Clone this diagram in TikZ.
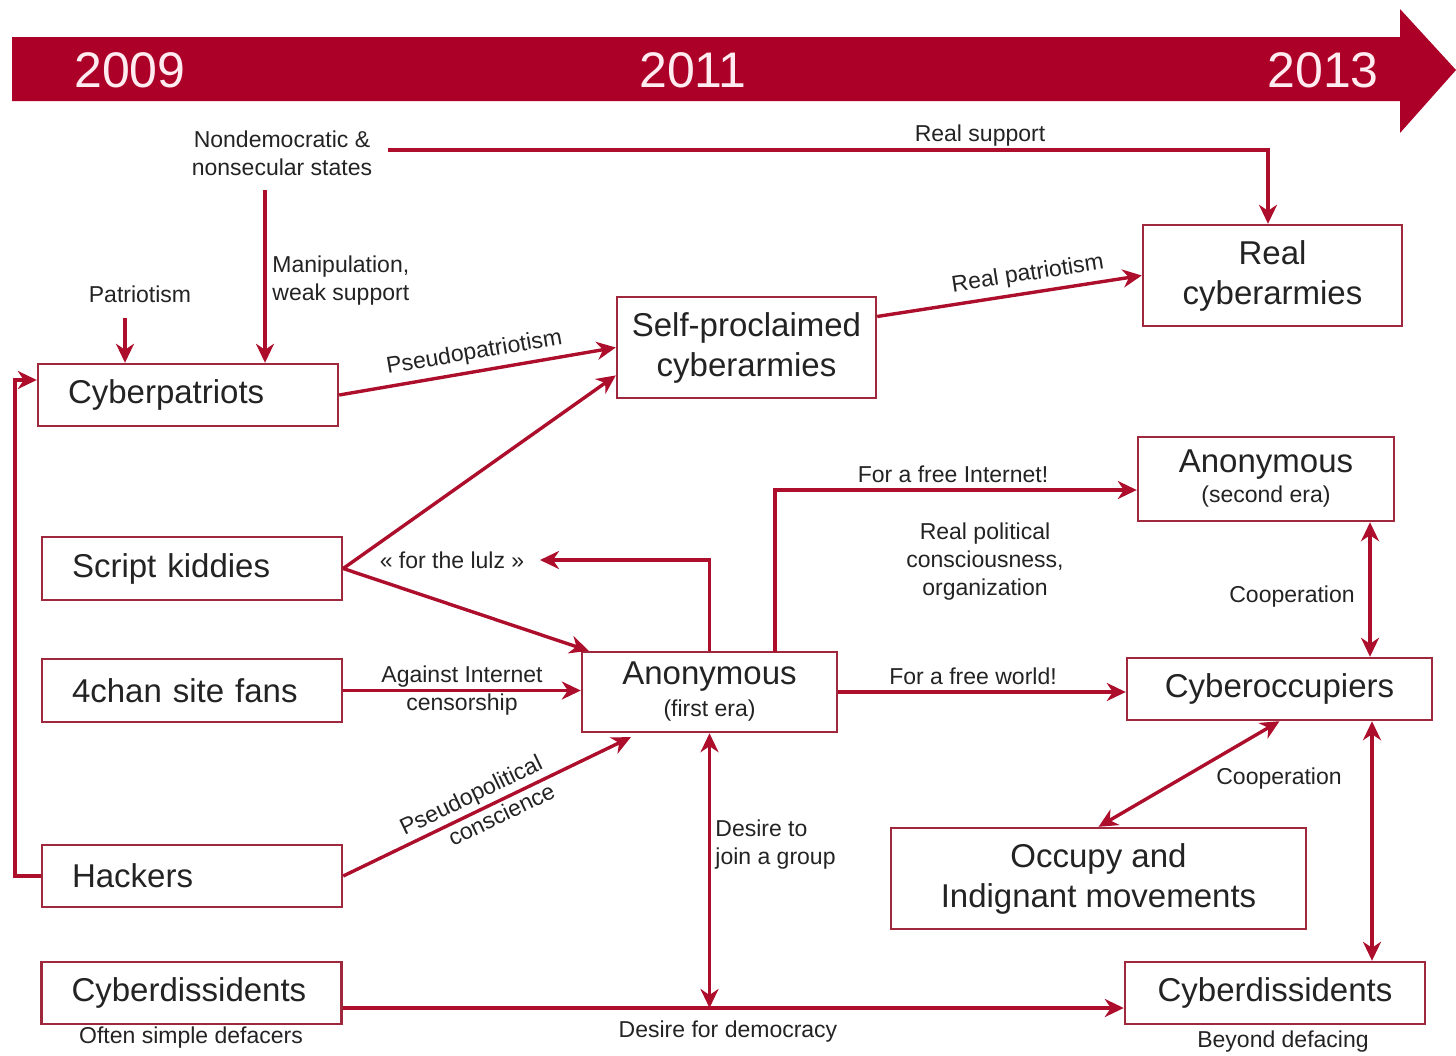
\documentclass[tikz,border=0pt]{standalone}
\usepackage{fontspec}
\setmainfont{Liberation Sans}
\usetikzlibrary{arrows.meta,calc}
\definecolor{crim}{RGB}{172,14,44}
\definecolor{bann}{RGB}{172,0,40}
\definecolor{boxc}{RGB}{160,40,60}
\definecolor{txt}{RGB}{35,35,35}
\definecolor{yr}{RGB}{255,235,240}
\tikzset{
  box/.style={draw=boxc, line width=1.2pt, fill=white, text=txt,
    font=\fontsize{16.5}{20}\selectfont, inner sep=0pt},
  lbox/.style={box, minimum height=31pt, text width=120pt, align=left, inner xsep=15pt},
  cbox/.style={box, align=center},
  lab/.style={font=\fontsize{11.5}{14}\selectfont, text=txt, inner sep=1pt, align=center},
  year/.style={font=\fontsize{25}{30}\selectfont, text=yr},
  tip/.tip={Stealth[length=9.5pt,width=9pt,inset=3pt]},
  arr/.style={draw=crim, line width=1.7pt, -tip},
  darr/.style={draw=crim, line width=1.7pt, tip-tip}
}
\begin{document}
\begin{tikzpicture}[x=0.5pt,y=-0.5pt]
\useasboundingbox (0,0) rectangle (1456,1055);
% banner
\fill[bann] (12,37) -- (1400,37) -- (1400,9) -- (1456,70) -- (1400,133) -- (1400,101) -- (12,101) -- cycle;
\node[year] (y1) at (130,70) {2009};
\node[year] (y2) at (693,70) {2011};
\node[year] (y3) at (1323,70) {2013};
% boxes
\node[lbox] (cp) at (188,395) {\raisebox{-1.5pt}{Cyberpatriots}};
\node[lbox, minimum height=31.5pt] (sk) at (192,568.5) {Script kiddies};
\node[lbox, minimum height=31.5pt] (fc) at (192,690.5) {4chan site fans};
\node[lbox] (hk) at (192,876) {Hackers};
\node[lbox] (cd1) at (191.5,993) {Cyberdissidents};
\node[cbox, minimum width=129.5pt, minimum height=50.5pt] (sp) at (746.5,347.5) {Self-proclaimed\\cyberarmies};
\node[cbox, minimum width=129.5pt, minimum height=50.5pt] (rc) at (1272.5,275.5) {Real\\cyberarmies};
\node[cbox, minimum width=127.5pt, minimum height=40pt] (an1) at (709.5,692) {Anonymous\\[-4pt]{\fontsize{11.5}{13}\selectfont (first era)}};
\node[cbox, minimum width=128pt, minimum height=42pt] (an2) at (1266,479) {Anonymous\\[-5pt]{\fontsize{11.5}{13}\selectfont (second era)}};
\node[cbox, minimum width=152.5pt, minimum height=31pt] (co) at (1279.5,689) {Cyberoccupiers};
\node[cbox, minimum width=207.5pt, minimum height=50.5pt] (oc) at (1098.5,878.5) {Occupy and\\Indignant movements};
\node[cbox, minimum width=150pt, minimum height=31pt] (cd2) at (1275,993) {Cyberdissidents};
% free labels
\node[lab] (nd) at (282,153) {Nondemocratic \&\\nonsecular states};
\node[lab] (pat) at (140,294) {Patriotism};
\node[lab, align=left, anchor=west] (man) at (270,281) {Manipulation,\\weak support};
\node[lab] (rsl) at (980,136) {Real support};
\node[lab] (lulz) at (452,560) {« for the lulz »};
\node[lab] (fil) at (953,474) {For a free Internet!};
\node[lab] (rpc) at (985,562) {Real political\\consciousness,\\organization};
\node[lab] (fwl) at (973,676) {For a free world!};
\node[lab] (coop1) at (1292,597) {Cooperation};
\node[lab] (coop2) at (1279,779) {Cooperation};
\node[lab, align=left, anchor=west] (djg) at (713,845) {Desire to\\join a group};
\node[lab] (dfd) at (728,1032) {Desire for democracy};
\node[lab] (osd) at (191,1038) {Often simple defacers};
\node[lab] (bdf) at (1283,1042) {Beyond defacing};
% helper coordinates
\coordinate (rsA) at (388,150);
\coordinate (rsB) at (1268,150);
\coordinate (m1) at (265,190);
\coordinate (p1) at (125,318);
\coordinate (lz) at (540,560);
\coordinate (fiA) at (775,652);
\coordinate (fiB) at (775,490);
\coordinate (cx) at (1370,600);
\coordinate (cx2) at (1372,840);
\coordinate (dl) at (341,1008);
\coordinate (hkl) at (15,876);
\coordinate (cpl) at (15,380);
% connectors
\draw[arr] (rsA) -- (rsB) -- (rsB |- rc.north);
\draw[arr] (m1) -- (m1 |- cp.north);
\draw[arr] (p1) -- (p1 |- cp.north);
\draw[arr] (cp.east) -- (sp.west) node[lab, midway, above=2pt, sloped] {Pseudopatriotism};
\draw[arr] ($(sp.north east)!0.2!(sp.south east)$) -- (rc.west) node[lab, pos=0.58, above=2pt, sloped] {Real patriotism};
\draw[arr] (sk.east) -- ($(sp.north west)!0.77!(sp.south west)$);
\draw[arr] (sk.east) -- ($(an1.north west)+(8,0)$);
\draw[arr] (an1.north) |- (lz);
\draw[arr] (fc.east) -- (fc.east -| an1.west) node[lab, midway] {Against Internet\\censorship};
\draw[arr] (hk.east) -- ($(an1.south west)+(50,4)$)
  node[lab, pos=0.47, above=0.5pt, sloped] {Pseudopolitical}
  node[lab, pos=0.53, below=0.5pt, sloped] {conscience};
\draw[arr] (fiA) -- (fiB) -- (fiB -| an2.west);
\draw[arr] (an1.east) -- (an1.east -| co.west);
\draw[darr] (an2.south -| cx) -- (co.north -| cx);
\draw[darr] (co.south) -- (oc.north);
\draw[darr] (co.south -| cx2) -- (cd2.north -| cx2);
\draw[arr] (cd1.east |- dl) -- (cd2.west |- dl);
\draw[darr] (an1.south) -- (an1.south |- dl);
\draw[arr] (hk.west) -- (hkl) -- (cpl) -- (cpl -| cp.west);
\end{tikzpicture}
\end{document}
